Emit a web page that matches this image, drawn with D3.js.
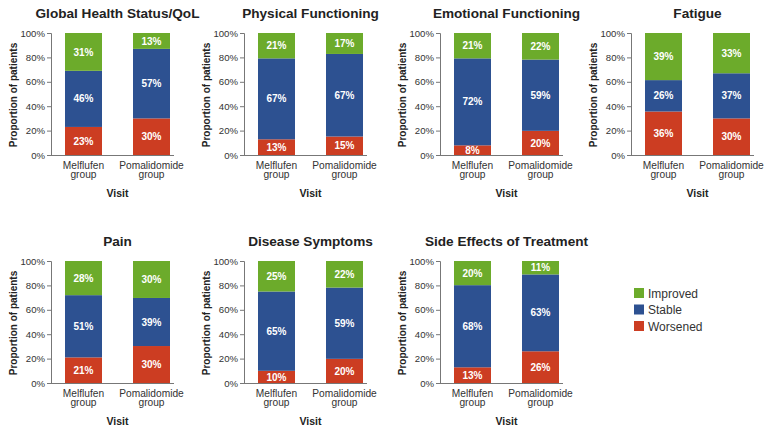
<!DOCTYPE html>
<html><head><meta charset="utf-8">
<script src="https://cdn.jsdelivr.net/npm/d3@7"></script>
<style>
body{margin:0;background:#fff;}
text{font-family:"Liberation Sans",Arial,Helvetica,sans-serif;}
</style></head>
<body><svg id="c" width="776" height="436"></svg>
<script>
const titles = ["Global Health Status/QoL","Physical Functioning","Emotional Functioning","Fatigue","Pain","Disease Symptoms","Side Effects of Treatment"];
const groups = ["Melflufen group","Pomalidomide group"];
const categories = ["Worsened","Stable","Improved"];
// values per panel: [Melflufen, Pomalidomide], each [Worsened, Stable, Improved] (%)
const worsened = [[23,30],[13,15],[8,20],[36,30],[21,30],[10,20],[13,26]];
const stable   = [[46,57],[67,67],[72,59],[26,37],[51,39],[65,59],[68,63]];
const improved = [[31,13],[21,17],[21,22],[39,33],[28,30],[25,22],[20,11]];
const yTicks = [0,20,40,60,80,100];
const xAxisTitle = "Visit";
const yAxisTitle = "Proportion of patients";
const legendOrder = ["Improved","Stable","Worsened"];

const colors = {Worsened:"#cc3d22", Stable:"#2d5191", Improved:"#6cab2b"};
const colX = [51,244,440,631];
const rowTop = [33,261];
const plotH = 122;
const font = '"Liberation Sans",Arial,Helvetica,sans-serif';

const svg = d3.select("#c");

titles.forEach((t,i)=>{
  const ax = colX[i%4], top = rowTop[Math.floor(i/4)], bottom = top+plotH;
  const g = svg.append("g");
  const x = d3.scaleBand().domain(groups).range([ax+14, ax+119]).paddingInner(0.456).paddingOuter(0);
  const y = d3.scaleLinear().domain([0,1]).range([bottom, top]);
  const rows = groups.map((gr,j)=>({group:gr, Worsened:worsened[i][j], Stable:stable[i][j], Improved:improved[i][j]}));
  const series = d3.stack().keys(categories).offset(d3.stackOffsetExpand)(rows);
  series.forEach(s=>{
    s.forEach(d=>{
      g.append("rect").attr("x",x(d.data.group)).attr("width",x.bandwidth())
        .attr("y",y(d[1])).attr("height",y(d[0])-y(d[1])).attr("fill",colors[s.key]);
      g.append("text").attr("x",x(d.data.group)+x.bandwidth()/2).attr("y",(y(d[0])+y(d[1]))/2+3.6)
        .attr("text-anchor","middle").attr("fill","#fff").attr("font-weight","bold").attr("font-size","10px")
        .text(d.data[s.key]+"%");
    });
  });
  // y axis
  const yA = d3.scaleLinear().domain([0,100]).range([bottom, top]);
  const axisG = g.append("g").attr("transform",`translate(${ax},0)`)
    .call(d3.axisLeft(yA).tickValues(yTicks).tickFormat(d=>d+"%").tickSizeOuter(0).tickSize(4).tickPadding(2));
  axisG.select(".domain").attr("stroke","#777");
  axisG.selectAll(".tick line").attr("stroke","#777");
  axisG.selectAll(".tick text").attr("fill","#333").attr("font-size","9.6px").attr("font-family",font);
  // x axis line
  g.append("line").attr("x1",ax).attr("x2",ax+123).attr("y1",bottom+0.5).attr("y2",bottom+0.5).attr("stroke","#777");
  // category labels
  groups.forEach(gr=>{
    const parts = gr.split(" ");
    const cx = x(gr)+x.bandwidth()/2;
    const tx = g.append("text").attr("text-anchor","middle").attr("fill","#333").attr("font-size","10.2px");
    parts.forEach((p,k)=>tx.append("tspan").attr("x",cx).attr("y",bottom+13.5+k*9.5).text(p));
  });
  const cxAll = (x(groups[0]) + x(groups[1])+x.bandwidth())/2;
  g.append("text").attr("x",cxAll).attr("y",bottom+42).attr("text-anchor","middle")
    .attr("font-weight","bold").attr("font-size","10.5px").attr("fill","#222").text(xAxisTitle);
  g.append("text").attr("x",cxAll).attr("y",top-15).attr("text-anchor","middle")
    .attr("font-weight","bold").attr("font-size","13.6px").attr("fill","#222").text(t);
  g.append("text").attr("transform",`translate(${ax-34.5},${(top+bottom)/2+1}) rotate(-90)`)
    .attr("text-anchor","middle").attr("font-weight","bold").attr("font-size","10px").attr("fill","#222").text(yAxisTitle);
});

// legend
const lg = svg.append("g").attr("transform","translate(634,288)");
legendOrder.forEach((k,i)=>{
  lg.append("rect").attr("x",0).attr("y",i*16.5).attr("width",10).attr("height",10).attr("fill",colors[k]);
  lg.append("text").attr("x",14).attr("y",i*16.5+9.5).attr("font-size","12px").attr("fill","#333").text(k);
});
</script></body></html>
